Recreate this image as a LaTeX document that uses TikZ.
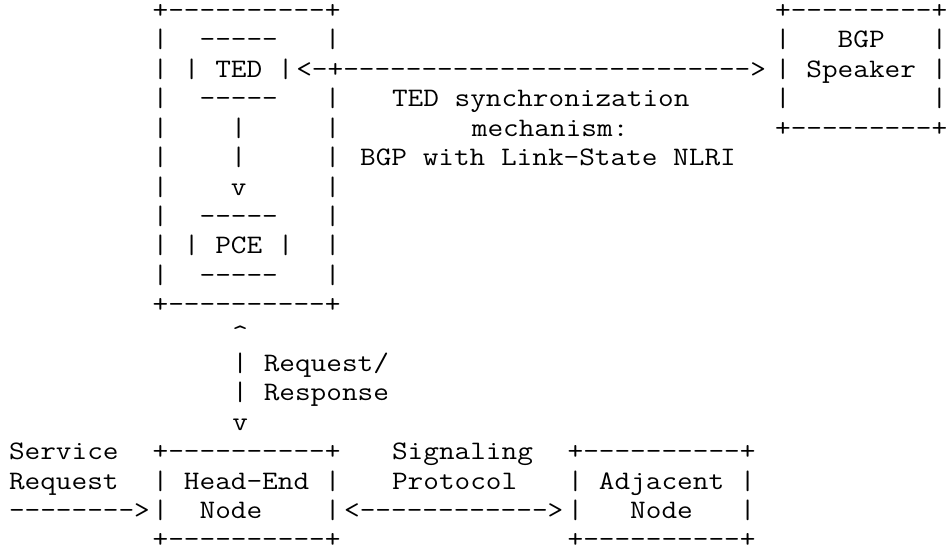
\documentclass[tikz,border=0pt]{standalone}
\usepackage{fontspec}
\usepackage{graphicx}
% #1 name, #2 column, #3 line, #4 text
\newcommand\artfrag[4]{\node[art] (#1) at ({9+#2*15.96},{18.6+(#3-1)*29.4}) {\scalebox{1.14}[1]{#4}};}
\begin{document}
\begin{tikzpicture}[x=0.75pt,y=-0.75pt,
  art/.style={anchor=base west,inner sep=0pt,outer sep=0pt,
    font=\ttfamily\fontsize{20pt}{22pt}\selectfont,text=black}]
\useasboundingbox[fill=white] (0,0) rectangle (948,549);
% line 1
\artfrag{pceTop}{9}{1}{+----------+}
\artfrag{bgpTop}{48}{1}{+---------+}
% line 2
\artfrag{pceL2}{9}{2}{|~~-----~~~|}
\artfrag{bgpL2}{48}{2}{|~~~BGP~~~|}
% line 3
\artfrag{ted}{9}{3}{|~|~TED~|}
\artfrag{syncArrow}{18}{3}{<-+{----------}{----------}{------}>}
\artfrag{bgpL3}{48}{3}{|~Speaker~|}
% line 4
\artfrag{pceL4}{9}{4}{|~~-----~~~|}
\artfrag{syncLbl1}{24}{4}{TED~synchronization}
\artfrag{bgpL4}{48}{4}{|~~~~~~~~~|}
% line 5
\artfrag{pceL5}{9}{5}{|~~~~|~~~~~|}
\artfrag{syncLbl2}{29}{5}{mechanism:}
\artfrag{bgpBot}{48}{5}{+---------+}
% line 6
\artfrag{pceL6}{9}{6}{|~~~~|~~~~~|}
\artfrag{syncLbl3}{22}{6}{BGP~with~Link-State~NLRI}
% line 7
\artfrag{pceL7}{9}{7}{|~~~~v~~~~~|}
% line 8
\artfrag{pceL8}{9}{8}{|~~-----~~~|}
% line 9
\artfrag{pce}{9}{9}{|~|~PCE~|~~|}
% line 10
\artfrag{pceL10}{9}{10}{|~~-----~~~|}
% line 11
\artfrag{pceBot}{9}{11}{+----------+}
% lines 12-15
\artfrag{reqUp}{14}{12}{\textasciicircum}
\artfrag{reqL1}{14}{13}{|~Request/}
\artfrag{reqL2}{14}{14}{|~Response}
\artfrag{reqDown}{14}{15}{v}
% line 16
\artfrag{svc1}{0}{16}{Service}
\artfrag{heTop}{9}{16}{+----------+}
\artfrag{sig1}{24}{16}{Signaling}
\artfrag{adjTop}{35}{16}{+----------+}
% line 17
\artfrag{svc2}{0}{17}{Request}
\artfrag{he1}{9}{17}{|~Head-End~|}
\artfrag{sig2}{24}{17}{Protocol}
\artfrag{adj1}{35}{17}{|~Adjacent~|}
% line 18
\artfrag{svcArrow}{0}{18}{-------->}
\artfrag{he2}{9}{18}{|~~Node~~~~|}
\artfrag{sigArrow}{21}{18}{<{------------}>}
\artfrag{adj2}{35}{18}{|~~~Node~~~|}
% line 19
\artfrag{heBot}{9}{19}{+----------+}
\artfrag{adjBot}{35}{19}{+----------+}
\end{tikzpicture}
\end{document}
